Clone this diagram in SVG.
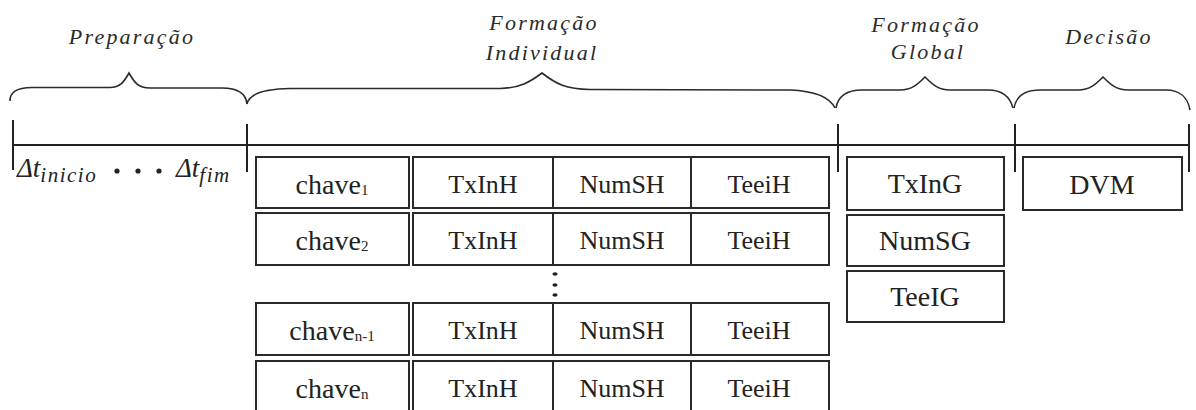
<svg xmlns="http://www.w3.org/2000/svg" width="1196" height="410" viewBox="0 0 1196 410">
  <style>
    .brace { fill: none; stroke: #2a2a2a; stroke-width: 1.6; }
    .axis { fill: none; stroke: #222; stroke-width: 2; }
    .box { fill: #fff; stroke: #2a2a2a; stroke-width: 2; }
    .div { stroke: #2a2a2a; stroke-width: 2; }
    text { font-family: "Liberation Serif", "Times New Roman", serif; }
    .phase { font-style: italic; font-size: 22px; letter-spacing: 2.2px; fill: #2b2b2b; text-anchor: middle; }
    .cell { font-size: 26px; fill: #222; text-anchor: middle; }
    .key { font-size: 28px; fill: #222; text-anchor: middle; }
    .glob { font-size: 28px; fill: #222; text-anchor: middle; }
    .sub { font-size: 15px; }
    .delta { font-style: italic; font-size: 27px; fill: #222; }
    .dsub { font-size: 21px; letter-spacing: 1.5px; }
    .dots { fill: #222; }
  </style>

  <!-- phase titles -->
  <g id="phase-labels">
    <text class="phase" x="132" y="44">Preparação</text>
    <text class="phase" x="544" y="30">Formação</text>
    <text class="phase" x="542" y="60">Individual</text>
    <text class="phase" x="926" y="32">Formação</text>
    <text class="phase" x="928" y="59">Global</text>
    <text class="phase" x="1109" y="44">Decisão</text>
  </g>

  <!-- braces over each phase -->
  <g id="braces">
    <path class="brace" d="M10,101 C10,92 16,88 32,87.5 L110,87.5 C120,87.5 124,82 129,73 C134,82 138,88 150,88 L222,88 C238,88 246,94 247,104"/>
    <path class="brace" d="M247,104 C249,94 262,89 290,88.5 L500,88.5 C520,88 530,82 542,73 C556,84 566,89 590,89.5 L790,90 C815,91 830,98 835,108"/>
    <path class="brace" d="M836,108 C838,97 845,90 862,90 L900,90 C912,90 918,84 925,77 C932,84 938,90 950,90 L988,90 C1002,90 1010,97 1013,108"/>
    <path class="brace" d="M1014,108 C1016,97 1023,90 1040,90 L1078,90 C1090,90 1096,84 1103,77 C1110,84 1116,90 1128,90 L1166,90 C1180,90 1188,98 1190,110"/>
  </g>

  <!-- time axis -->
  <g id="timeline">
    <line class="axis" x1="13" y1="145" x2="1189" y2="145"/>
    <line class="axis" x1="13" y1="120" x2="13" y2="170"/>
    <line class="axis" x1="247" y1="124" x2="247" y2="172"/>
    <line class="axis" x1="838" y1="124" x2="838" y2="172"/>
    <line class="axis" x1="1015" y1="124" x2="1015" y2="172"/>
    <line class="axis" x1="1189" y1="124" x2="1189" y2="172"/>
  </g>

  <!-- preparation interval -->
  <g id="interval">
    <text class="delta" x="17" y="177">Δt<tspan class="dsub" dy="5">inicio</tspan></text>
    <circle class="dots" cx="117" cy="171" r="2.6"/>
    <circle class="dots" cx="138" cy="171" r="2.6"/>
    <circle class="dots" cx="159" cy="171" r="2.6"/>
    <text class="delta" x="176" y="177">Δt<tspan class="dsub" dy="5">fim</tspan></text>
  </g>

  <!-- individual formation rows -->
  <g id="row-1">
    <rect class="box" x="256" y="157" width="153" height="51"/>
    <text class="key" x="332" y="194">chave<tspan class="sub" dy="1">1</tspan></text>
    <rect class="box" x="413" y="157" width="416" height="51"/>
    <line class="div" x1="553" y1="157" x2="553" y2="208"/>
    <line class="div" x1="691" y1="157" x2="691" y2="208"/>
    <text class="cell" x="483" y="193">TxInH</text>
    <text class="cell" x="622" y="193">NumSH</text>
    <text class="cell" x="759" y="193">TeeiH</text>
  </g>
  <g id="row-2">
    <rect class="box" x="256" y="213" width="153" height="52"/>
    <text class="key" x="332" y="250">chave<tspan class="sub" dy="1">2</tspan></text>
    <rect class="box" x="413" y="213" width="416" height="52"/>
    <line class="div" x1="553" y1="213" x2="553" y2="265"/>
    <line class="div" x1="691" y1="213" x2="691" y2="265"/>
    <text class="cell" x="483" y="249">TxInH</text>
    <text class="cell" x="622" y="249">NumSH</text>
    <text class="cell" x="759" y="249">TeeiH</text>
  </g>
  <g id="ellipsis">
    <ellipse class="dots" cx="555" cy="274" rx="2.6" ry="1.8"/>
    <ellipse class="dots" cx="555" cy="285" rx="2.6" ry="1.8"/>
    <ellipse class="dots" cx="555" cy="295" rx="2.6" ry="1.8"/>
  </g>
  <g id="row-n-1">
    <rect class="box" x="256" y="303" width="153" height="52"/>
    <text class="key" x="332" y="340">chave<tspan class="sub" dy="1">n-1</tspan></text>
    <rect class="box" x="413" y="303" width="416" height="52"/>
    <line class="div" x1="553" y1="303" x2="553" y2="355"/>
    <line class="div" x1="691" y1="303" x2="691" y2="355"/>
    <text class="cell" x="483" y="339">TxInH</text>
    <text class="cell" x="622" y="339">NumSH</text>
    <text class="cell" x="759" y="339">TeeiH</text>
  </g>
  <g id="row-n">
    <rect class="box" x="256" y="361" width="153" height="60"/>
    <text class="key" x="332" y="398">chave<tspan class="sub" dy="1">n</tspan></text>
    <rect class="box" x="413" y="361" width="416" height="60"/>
    <line class="div" x1="553" y1="361" x2="553" y2="410"/>
    <line class="div" x1="691" y1="361" x2="691" y2="410"/>
    <text class="cell" x="483" y="397">TxInH</text>
    <text class="cell" x="622" y="397">NumSH</text>
    <text class="cell" x="759" y="397">TeeiH</text>
  </g>

  <!-- global formation -->
  <g id="global-txing">
    <rect class="box" x="847" y="157" width="157" height="53"/>
    <text class="glob" x="925" y="193">TxInG</text>
  </g>
  <g id="global-numsg">
    <rect class="box" x="847" y="215" width="157" height="51"/>
    <text class="glob" x="925" y="250">NumSG</text>
  </g>
  <g id="global-teeig">
    <rect class="box" x="847" y="271" width="157" height="51"/>
    <text class="glob" x="925" y="306">TeeIG</text>
  </g>

  <!-- decision -->
  <g id="decision-dvm">
    <rect class="box" x="1023" y="157" width="159" height="53"/>
    <text class="glob" x="1102" y="194">DVM</text>
  </g>
</svg>
